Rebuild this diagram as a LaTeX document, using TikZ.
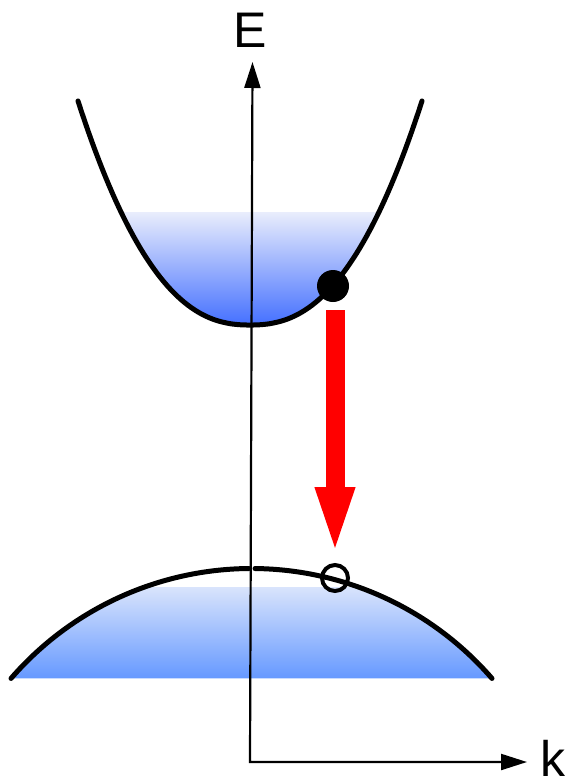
\documentclass[tikz,border=0pt]{standalone}
\usepackage{fontspec}
\setmainfont{Liberation Sans}
\usetikzlibrary{arrows.meta}
\definecolor{cbTop}{RGB}{233,237,252}
\definecolor{cbBot}{RGB}{58,104,255}
\definecolor{vbTop}{RGB}{217,228,252}
\definecolor{vbBot}{RGB}{102,153,255}
\begin{document}
\begin{tikzpicture}[x=1pt,y=-1pt,
  band/.style={line width=5pt, line cap=round},
  axisline/.style={line width=2.2pt, line join=miter},
  lbl/.style={font=\fontsize{50}{60}\selectfont, inner sep=0pt, anchor=base},
  electron/.style={circle, fill=black, minimum size=32pt, inner sep=0pt},
  hole/.style={circle, draw=black, line width=4pt, minimum size=26pt, inner sep=0pt},
  transition/.style={red, line width=19pt, -{Triangle[length=72pt,width=34pt]}}]
\useasboundingbox (0,0) rectangle (572,782);

% conduction band fill
\begin{scope}
  \clip plot[domain=-172:172, samples=101] ({250+\x},{325-224*pow(abs(\x)/172+0.0001,2.38)}) -- cycle;
  \shade[top color=cbTop, bottom color=cbBot] (60,212) rectangle (440,332);
\end{scope}

% valence band fill
\begin{scope}
  \clip plot[domain=-240.5:240.5, samples=121] ({251.5+\x},{568.5+318*(1-sqrt(1-(\x/318)*(\x/318)))}) -- cycle;
  \shade[top color=vbTop, bottom color=vbBot] (0,587) rectangle (510,678);
\end{scope}

% conduction band curve
\draw[band] plot[domain=-172:172, samples=101] ({250+\x},{325-224*pow(abs(\x)/172+0.0001,2.38)});

% valence band curve (two pieces, gap at the axis)
\draw[band] plot[domain=-240.5:-2.5, samples=80] ({251.5+\x},{568.5+318*(1-sqrt(1-(\x/318)*(\x/318)))});
\draw[band] plot[domain=3.5:240.5, samples=80] ({251.5+\x},{568.5+318*(1-sqrt(1-(\x/318)*(\x/318)))});

% axes
\coordinate (O) at (250,762);
\coordinate (Etip) at (252.5,62);
\coordinate (ktip) at (527,762);
\draw[axisline, {Triangle[length=26pt,width=16pt]}-{Triangle[length=26pt,width=16pt]}] (Etip) -- (O) -- (ktip);
\node[lbl] (E) at (250,47) {E};
\node[lbl] (k) at (553,776) {k};

% electron, hole, transition
\node[electron] (e) at (333,286) {};
\node[hole] (h) at (335,578) {};
\coordinate (rs) at (335,310);
\coordinate (re) at (335,559);
\draw[transition] (rs) -- (re);
\end{tikzpicture}
\end{document}
